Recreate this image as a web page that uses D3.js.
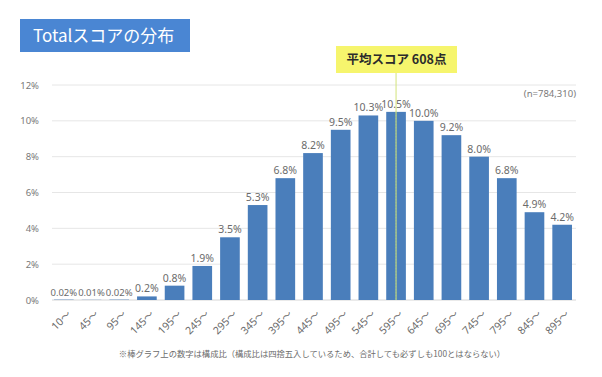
<!DOCTYPE html>
<html>
<head>
<meta charset="utf-8">
<script src="https://cdn.jsdelivr.net/npm/d3@7"></script>
<style>
  body { margin: 0; background: #fff; }
  text { font-family: "Noto Sans", "Noto Sans CJK JP", sans-serif; }
</style>
</head>
<body>
<svg id="chart" width="602" height="377"></svg>
<script>
// score bins (lower bound) and share of test takers, %
const bins = ["10", "45", "95", "145", "195", "245", "295", "345", "395", "445",
  "495", "545", "595", "645", "695", "745", "795", "845", "895"]
const shares = [0.02, 0.01, 0.02, 0.2, 0.8, 1.9, 3.5, 5.3, 6.8, 8.2,
  9.5, 10.3, 10.5, 10.0, 9.2, 8.0, 6.8, 4.9, 4.2]
const yTicks = [0, 2, 4, 6, 8, 10, 12]
const meanScore = 608
const meanBin = "595"
const sampleSize = "(n=784,310)"
const title = "Totalスコアの分布"
const footnote = "※棒グラフ上の数字は構成比（構成比は四捨五入しているため、合計しても必ずしも100とはならない）"

const svg = d3.select("#chart")
const margins = {left: 50, right: 26, top: 85, bottom: 77}
const width = 602, height = 377

const x = d3.scaleBand()
  .domain(bins)
  .range([margins.left, width - margins.right])
  .paddingInner(0.29)
  .paddingOuter(0.145)

const y = d3.scaleLinear()
  .domain([0, 12])
  .range([height - margins.bottom, margins.top])

// gridlines
svg.append("g")
  .selectAll("line")
  .data(yTicks)
  .join("line")
  .attr("x1", margins.left + 2)
  .attr("x2", width - margins.right)
  .attr("y1", d => y(d))
  .attr("y2", d => y(d))
  .attr("stroke", d => d === 0 ? "#d6d6d6" : "#e6e6e6")
  .attr("stroke-width", 1)

// y axis labels
const yAxis = svg.append("g")
  .attr("transform", `translate(${margins.left - 8},0)`)
  .call(d3.axisLeft(y).tickValues(yTicks).tickFormat(d => d + "%").tickSize(0))
yAxis.select(".domain").remove()
yAxis.selectAll("text")
  .attr("fill", "#7a7a7a")
  .style("font-size", "9.5px")

// bars
const data = bins.map((b, i) => ({bin: b, value: shares[i]}))
svg.append("g")
  .selectAll("rect")
  .data(data)
  .join("rect")
  .attr("x", d => x(d.bin))
  .attr("width", x.bandwidth())
  .attr("y", d => y(d.value))
  .attr("height", d => y(0) - y(d.value))
  .attr("fill", "#4a7ebb")

// value labels
svg.append("g")
  .selectAll("text")
  .data(data)
  .join("text")
  .attr("x", d => x(d.bin) + x.bandwidth() / 2)
  .attr("y", d => y(d.value) - 4)
  .attr("text-anchor", "middle")
  .attr("fill", "#6b6b6b")
  .style("font-size", d => d.value < 0.1 ? "9.5px" : "10.5px")
  .text(d => d.value < 0.1 ? d.value.toFixed(2) + "%" : d.value.toFixed(1) + "%")

// x axis labels, rotated
const xAxis = svg.append("g")
  .attr("transform", `translate(0,${y(0)})`)
  .call(d3.axisBottom(x).tickFormat(d => d + "〜").tickSize(0))
xAxis.select(".domain").remove()
xAxis.selectAll("text")
  .attr("fill", "#6b6b6b")
  .style("font-size", "10.5px")
  .attr("text-anchor", "end")
  .attr("dy", "0.35em")
  .attr("transform", "translate(3,10) rotate(-45)")

// mean score marker
const meanX = x(meanBin) + x.bandwidth() / 2
svg.append("line")
  .attr("x1", meanX).attr("x2", meanX)
  .attr("y1", 73).attr("y2", y(0))
  .attr("stroke", "#d2e37a")
  .attr("stroke-width", 1)
svg.append("line")
  .attr("x1", meanX).attr("x2", meanX)
  .attr("y1", y(shares[bins.indexOf(meanBin)])).attr("y2", y(0))
  .attr("stroke", "#9fc48a")
  .attr("stroke-width", 1)
  .attr("stroke-dasharray", "1.5,1.5")

svg.append("rect")
  .attr("x", 336).attr("y", 46)
  .attr("width", 121).attr("height", 27)
  .attr("fill", "#f6f56d")
svg.append("text")
  .attr("x", 396.5).attr("y", 64)
  .attr("text-anchor", "middle")
  .attr("fill", "#2b2b2b")
  .style("font-family", "'Noto Sans CJK JP', sans-serif")
  .style("font-size", "12.5px")
  .style("font-weight", "bold")
  .text(`平均スコア ${meanScore}点`)

// sample size
svg.append("text")
  .attr("x", width - margins.right)
  .attr("y", 97)
  .attr("text-anchor", "end")
  .attr("fill", "#7a7a7a")
  .style("font-size", "9.5px")
  .text(sampleSize)

// title box
svg.append("rect")
  .attr("x", 20).attr("y", 19)
  .attr("width", 170).attr("height", 33)
  .attr("fill", "#4a86d3")
svg.append("text")
  .attr("x", 33).attr("y", 42)
  .attr("fill", "#fff")
  .style("font-family", "'Noto Sans CJK JP', sans-serif")
  .style("font-size", "17px")
  .style("font-weight", "normal")
  .text(title)

// footnote
svg.append("text")
  .attr("x", 312).attr("y", 357)
  .attr("text-anchor", "middle")
  .attr("fill", "#6b6b6b")
  .style("font-family", "'Noto Sans CJK JP', sans-serif")
  .style("font-size", "8.3px")
  .text(footnote)
</script>
</body>
</html>
